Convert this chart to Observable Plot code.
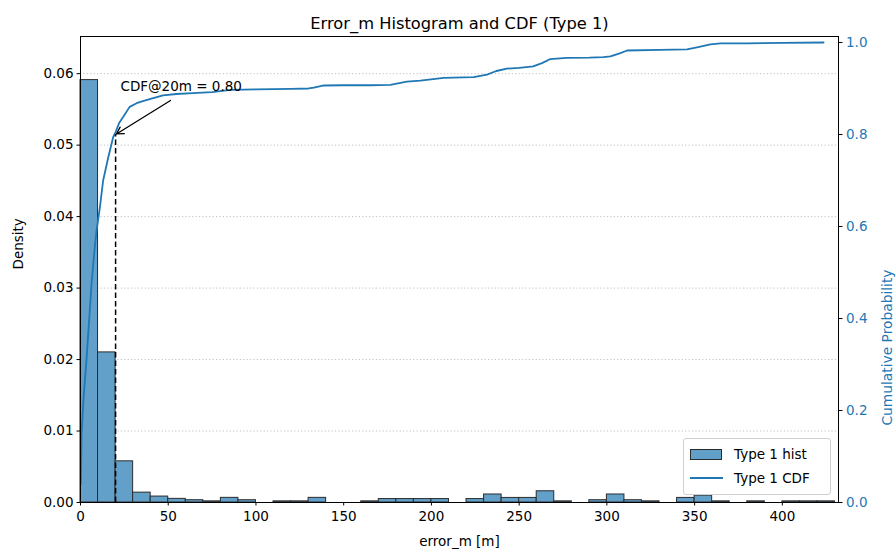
<!DOCTYPE html>
<html>
<head>
<meta charset="utf-8">
<script src="https://cdn.jsdelivr.net/npm/d3@7"></script>
<script src="https://cdn.jsdelivr.net/npm/@observablehq/plot@0.6"></script>
<style>
  body { margin: 0; background: #fff; font-family: "DejaVu Sans", sans-serif; }
  #wrap { position: relative; width: 896px; height: 556px; }
  #legend { position: absolute; left: 683px; top: 438px; width: 146px; height: 55px;
    border: 1px solid #d0d0d0; border-radius: 3px; background: rgba(255,255,255,0.85);
    font-family: "DejaVu Sans", sans-serif; font-size: 13.5px; color: #000; }
  .row { position: absolute; left: 6px; height: 20px; display: flex; align-items: center; }
  .patch { width: 32px; height: 11px; background: #62a0ca; border: 1px solid #2b2b2b; box-sizing: border-box; margin-right: 12px; }
  .ln { width: 33px; height: 2px; background: #1f77b4; margin-right: 11px; }
</style>
</head>
<body>
<div id="wrap">
  <div id="chart"></div>
  <div id="legend">
    <div class="row" style="top:5px"><div class="patch"></div><span>Type 1 hist</span></div>
    <div class="row" style="top:29px"><div class="ln"></div><span>Type 1 CDF</span></div>
  </div>
</div>
<script>
// Histogram bins (10 m wide), start of each bin
const binStarts = [0,10,20,30,40,50,60,70,80,90,100,110,120,130,140,150,160,170,180,190,200,210,220,230,240,250,260,270,280,290,300,310,320,330,340,350,360,370,380,390,400,410,420];
const densities = [0.0591,0.0210,0.00576,0.00138,0.00083,0.00051,0.00032,0.00016,0.00065,0.00032,0,0.00016,0.00016,0.00065,0,0,0.00016,0.00048,0.00048,0.00048,0.00048,0,0.00048,0.00112,0.00064,0.00064,0.00157,0.00016,0,0.00032,0.00112,0.00032,0.00016,0,0.00064,0.00096,0.00016,0,0.00016,0,0.00016,0.00016,0.00016];
const binWidth = 10;

const cdfX = [0.2,0.6,1.8,3.4,5,6.3,8,9.1,11,12.9,15.8,18.6,20,22,24.3,28,32,36,39.5,47,54.7,64,75,85.5,100,120,130,133,138.7,150,165,176.6,186,193.7,207,224,231.7,237,243,250,258,263,267.8,277,290,298,302,307.7,311.5,330,345.7,352,359,364.7,380,400,423.5];
const cdfY = [0.04,0.15,0.23,0.31,0.40,0.476,0.55,0.59,0.64,0.70,0.75,0.794,0.805,0.825,0.838,0.86,0.868,0.873,0.877,0.885,0.888,0.89,0.892,0.897,0.898,0.899,0.900,0.902,0.9065,0.907,0.907,0.908,0.915,0.917,0.923,0.9246,0.93,0.938,0.943,0.945,0.948,0.955,0.964,0.9667,0.967,0.968,0.9696,0.977,0.9826,0.984,0.985,0.99,0.996,0.998,0.998,0.999,1.0];

const xTicks = [0,50,100,150,200,250,300,350,400];
const densityTicks = [0,0.01,0.02,0.03,0.04,0.05,0.06];
const cdfTicks = [0,0.2,0.4,0.6,0.8,1.0];
const markX = 20, markCdf = 0.80;
const annotation = "CDF@20m = 0.80";

const densityMax = 0.0652, cdfMax = 1.013;
const K = densityMax / cdfMax; // cdf -> density-scale
const C0 = "#1f77b4";

const hist = binStarts.map((x0, i) => ({x0, x1: x0 + binWidth, d: densities[i]})).filter(b => b.d > 0);
const cdf = cdfX.map((x, i) => ({x, y: cdfY[i] * K}));

const plot = Plot.plot({
  width: 896, height: 556,
  marginTop: 36, marginRight: 58, marginBottom: 54, marginLeft: 80,
  style: {fontFamily: "DejaVu Sans, sans-serif", fontSize: "13.5px", color: "#000", background: "#fff"},
  x: {domain: [0, 432]},
  y: {domain: [0, densityMax]},
  marks: [
    Plot.gridY(densityTicks.slice(1), {stroke: "#b0b0b0", strokeOpacity: 1, strokeDasharray: "1.2,2.2", strokeWidth: 0.8}),
    Plot.rect(hist, {x1: "x0", x2: "x1", y1: 0, y2: "d", fill: "#62a0ca", stroke: "#2b2b2b", strokeWidth: 1}),
    Plot.line(cdf, {x: "x", y: "y", stroke: C0, strokeWidth: 1.8}),
    Plot.ruleX([markX], {y1: 0, y2: markCdf * K, stroke: "#000", strokeWidth: 1.5, strokeDasharray: "5.5,3"}),
    Plot.arrow([{x1: 51.3, y1: 0.874 * K, x2: markX, y2: markCdf * K}], {x1: "x1", y1: "y1", x2: "x2", y2: "y2", stroke: "#000", strokeWidth: 1.3, headLength: 9, insetEnd: 1, bend: 0}),
    Plot.text([annotation], {x: 22.8, y: 0.903 * K, text: d => d, textAnchor: "start", fontSize: 13.5, fill: "#000"}),
    Plot.frame({stroke: "#000", strokeWidth: 1}),
    Plot.axisX(xTicks, {anchor: "bottom", tickSize: 3.5, tickPadding: 5, label: null, tickFormat: d => String(d)}),
    Plot.axisY(densityTicks, {anchor: "left", tickSize: 3.5, tickPadding: 3.5, label: null, tickFormat: d => d.toFixed(2)}),
    Plot.axisY(cdfTicks.map(t => t * K), {anchor: "right", tickSize: 3.5, text: null, label: null}),
    Plot.axisY(cdfTicks.map(t => t * K), {anchor: "right", tickSize: 0, tickPadding: 7.5, label: null, fill: C0, tickFormat: d => (d / K).toFixed(1)}),
    Plot.text(["Error_m Histogram and CDF (Type 1)"], {frameAnchor: "top", dy: -19, text: d => d, fontSize: 16.3}),
    Plot.text(["error_m [m]"], {frameAnchor: "bottom", dy: 43, text: d => d, fontSize: 13.5}),
    Plot.text(["Density"], {frameAnchor: "left", dx: -62, rotate: -90, text: d => d, fontSize: 13.5}),
    Plot.text(["Cumulative Probability"], {frameAnchor: "right", dx: 49, rotate: -90, text: d => d, fontSize: 13.8, fill: C0})
  ]
});
document.getElementById("chart").appendChild(plot);
</script>
</body>
</html>
